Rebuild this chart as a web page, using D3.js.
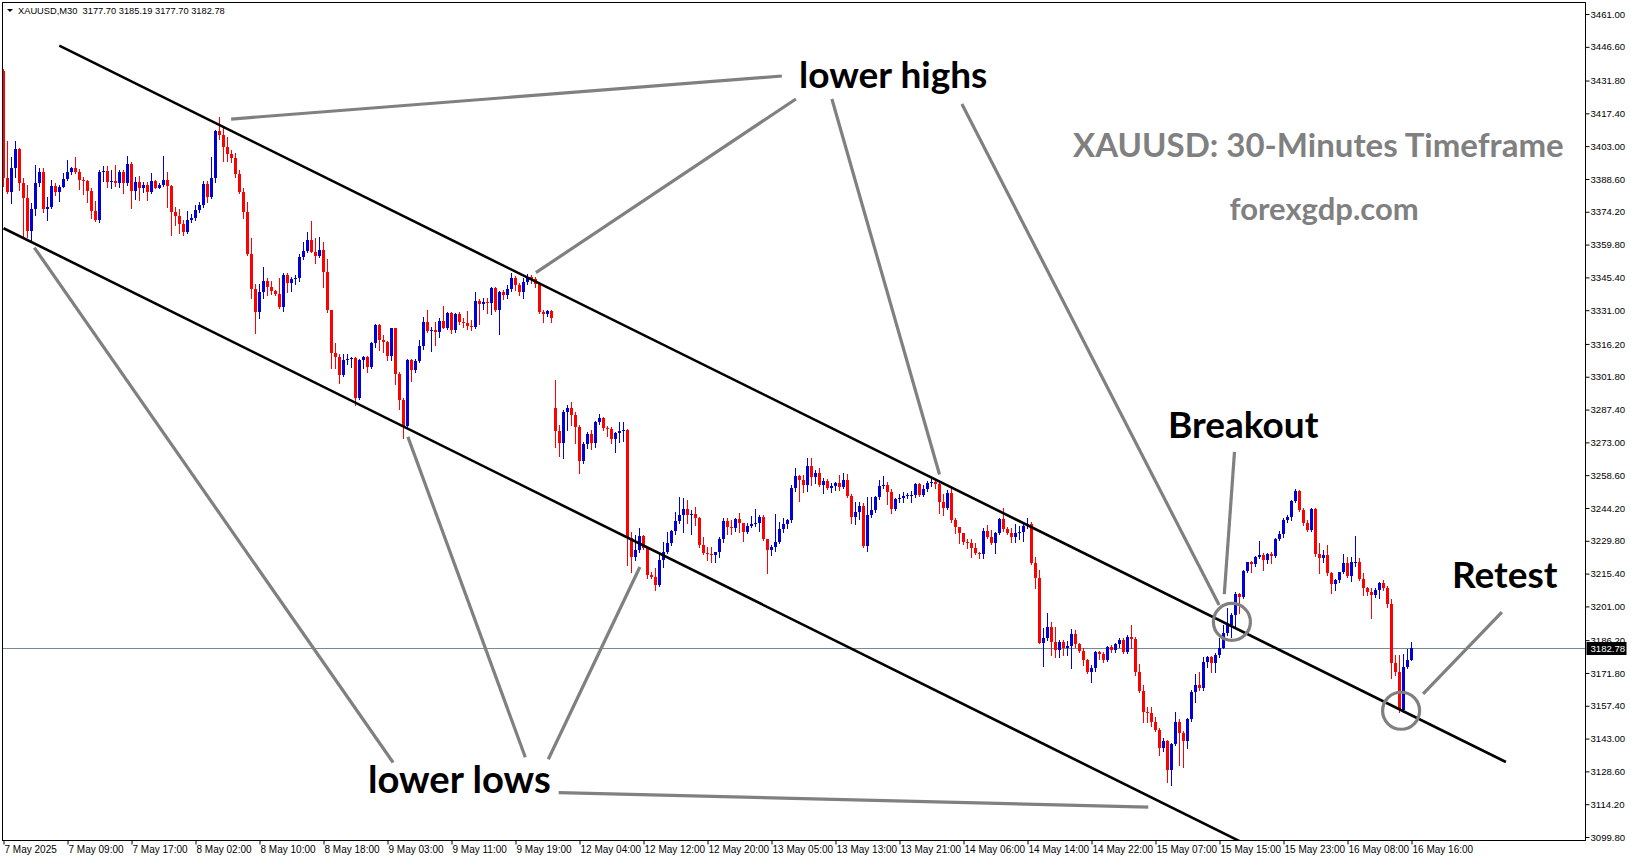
<!DOCTYPE html>
<html><head><meta charset="utf-8">
<script src="https://cdn.jsdelivr.net/npm/d3@7"></script>
<style>
html,body{margin:0;padding:0;background:#fff;overflow:hidden}
svg{display:block}
</style></head><body>
<svg id="chart" width="1631" height="861"></svg>
<script>
// ---------------- DATA ----------------
const headerText = "XAUUSD,M30  3177.70 3185.19 3177.70 3182.78";
const timeLabels = ["7 May 2025","7 May 09:00","7 May 17:00","8 May 02:00","8 May 10:00","8 May 18:00","9 May 03:00","9 May 11:00","9 May 19:00","12 May 04:00","12 May 12:00","12 May 20:00","13 May 05:00","13 May 13:00","13 May 21:00","14 May 06:00","14 May 14:00","14 May 22:00","15 May 07:00","15 May 15:00","15 May 23:00","16 May 08:00","16 May 16:00"];
const timeLabelBars = [0,16,32,48,64,80,96,112,128,144,160,176,192,208,224,240,256,272,288,304,320,336,352];
const priceTicks = [3461.00,3446.60,3431.80,3417.40,3403.00,3388.60,3374.20,3359.80,3345.40,3331.00,3316.20,3301.80,3287.40,3273.00,3258.60,3244.20,3229.80,3215.40,3201.00,3186.20,3171.80,3157.40,3143.00,3128.60,3114.20,3099.80];
const lastPrice = 3182.78;

const opens = [
3436.0,3389.0,3382.7,3393.6,3401.7,3386.7,3380.4,3365.8,3375.4,3386.8,
3391.5,3375.4,3376.3,3385.6,3382.7,3385.1,3388.6,3391.5,3393.6,3391.8,
3388.1,3387.7,3383.3,3374.5,3370.6,3391.5,3392.1,3387.4,3387.7,3386.8,
3391.8,3386.7,3395.0,3383.3,3387.1,3384.8,3385.9,3382.7,3387.7,3384.8,
3385.9,3388.1,3385.6,3374.0,3372.5,3368.7,3365.2,3370.6,3371.3,3375.0,
3377.2,3386.2,3380.8,3388.9,3409.6,3407.9,3402.8,3399.4,3397.6,3390.6,
3382.7,3374.2,3355.5,3340.3,3330.3,3338.8,3343.8,3341.3,3339.4,3338.3,
3332.5,3346.4,3342.8,3344.7,3345.3,3354.5,3357.0,3361.8,3356.7,3354.9,
3357.4,3347.6,3331.1,3312.0,3310.6,3302.5,3309.1,3309.6,3309.9,3292.3,
3309.1,3310.6,3306.2,3316.5,3324.5,3317.9,3316.9,3311.0,3323.0,3302.9,
3291.6,3280.3,3309.1,3304.8,3308.7,3315.4,3325.7,3321.9,3322.3,3321.6,
3326.3,3323.3,3329.6,3322.3,3329.2,3325.7,3325.6,3324.2,3323.8,3335.0,
3333.6,3334.7,3334.0,3340.9,3331.1,3339.1,3337.7,3340.3,3345.0,3342.0,
3339.0,3343.5,3345.5,3344.5,3342.5,3330.1,3329.2,3330.6,3288.0,3278.0,
3272.6,3286.5,3288.2,3285.0,3279.9,3264.8,3272.1,3276.5,3272.6,3282.1,
3283.8,3279.2,3278.9,3274.5,3277.0,3278.0,3278.4,3230.9,3222.8,3225.7,
3232.1,3226.5,3214.8,3214.0,3210.4,3221.4,3225.0,3228.7,3234.1,3238.5,
3241.1,3243.7,3241.1,3241.4,3240.0,3228.0,3224.3,3223.8,3223.5,3224.7,
3230.8,3238.6,3235.7,3235.2,3239.2,3237.4,3233.8,3236.3,3237.2,3237.5,
3240.1,3230.4,3225.7,3226.9,3229.4,3234.8,3237.1,3238.9,3252.8,3258.2,
3256.5,3254.3,3262.6,3257.6,3259.7,3254.3,3256.2,3252.8,3253.8,3255.3,
3253.5,3256.5,3249.4,3240.1,3242.6,3245.1,3227.5,3241.1,3243.3,3248.9,
3253.8,3254.3,3251.3,3243.6,3248.0,3248.4,3249.4,3249.9,3250.0,3254.7,
3249.9,3252.4,3255.3,3255.7,3254.7,3247.0,3244.0,3250.9,3238.9,3235.7,
3233.1,3229.4,3228.7,3226.5,3224.3,3224.0,3234.2,3231.3,3229.0,3233.4,
3239.2,3234.8,3233.4,3231.6,3233.1,3233.8,3236.3,3237.2,3220.2,3213.3,
3185.1,3187.0,3191.8,3185.5,3181.9,3185.5,3182.6,3183.6,3188.7,3184.4,
3181.4,3177.5,3172.1,3173.8,3180.8,3180.0,3177.5,3183.3,3181.9,3184.3,
3186.3,3181.1,3187.7,3186.7,3172.1,3163.9,3154.5,3154.1,3150.4,3146.8,
3138.7,3142.0,3129.2,3140.5,3150.4,3145.3,3142.0,3151.6,3163.3,3166.5,
3165.3,3176.5,3179.0,3176.0,3179.7,3182.9,3189.2,3192.8,3197.2,3206.3,
3205.3,3216.5,3220.3,3219.5,3222.9,3223.6,3221.4,3223.9,3223.3,3230.6,
3232.6,3238.9,3240.4,3247.3,3251.6,3243.3,3237.5,3234.5,3243.7,3223.9,
3222.4,3223.6,3215.5,3210.7,3212.6,3216.0,3219.9,3214.5,3220.3,3220.6,
3213.0,3209.2,3207.2,3206.0,3208.2,3211.1,3209.2,3201.9,3176.0,3172.4,
3155.5,3174.6,3177.70];

const highs = [
3437.0,3405.3,3398.4,3405.3,3402.3,3389.2,3386.0,3377.9,3394.7,3393.3,
3393.3,3380.8,3388.1,3386.7,3386.0,3391.0,3396.9,3394.0,3398.4,3393.0,
3389.6,3388.1,3384.5,3379.0,3392.5,3394.4,3394.4,3392.5,3394.7,3392.5,
3392.5,3398.8,3395.9,3389.6,3390.0,3387.4,3387.4,3391.0,3388.1,3386.7,
3398.8,3391.8,3385.9,3376.4,3375.4,3370.6,3374.5,3373.1,3377.2,3378.6,
3387.7,3387.7,3398.4,3410.1,3415.9,3411.5,3407.2,3401.3,3399.8,3392.5,
3384.8,3378.6,3362.5,3342.3,3342.3,3350.1,3345.3,3343.8,3340.0,3345.3,
3347.2,3347.2,3345.7,3346.4,3355.5,3361.1,3365.5,3370.1,3362.8,3363.3,
3361.1,3353.5,3331.1,3316.4,3311.6,3311.6,3311.6,3310.6,3310.6,3309.6,
3311.0,3311.0,3317.0,3325.0,3325.0,3320.1,3317.5,3323.3,3323.3,3303.7,
3292.3,3309.5,3309.6,3309.6,3317.9,3328.2,3331.1,3323.8,3326.0,3327.7,
3333.0,3330.4,3330.0,3329.6,3330.4,3327.4,3330.7,3326.7,3339.1,3336.0,
3336.2,3336.5,3341.3,3341.3,3339.4,3339.9,3342.1,3347.5,3346.0,3343.0,
3345.0,3347.0,3346.5,3345.5,3343.5,3331.1,3331.0,3331.0,3300.4,3280.6,
3287.2,3289.4,3290.9,3286.5,3280.6,3273.3,3277.7,3278.4,3282.4,3285.3,
3284.3,3280.3,3279.9,3277.7,3282.1,3282.1,3278.8,3233.8,3232.4,3235.3,
3232.4,3227.2,3216.2,3217.7,3225.0,3229.4,3233.8,3234.5,3242.6,3249.2,
3248.4,3247.7,3243.3,3244.8,3240.4,3231.6,3227.2,3227.2,3225.0,3231.5,
3239.6,3239.6,3238.9,3240.0,3242.1,3237.7,3237.4,3240.7,3243.6,3241.1,
3241.1,3230.8,3227.9,3241.5,3238.2,3239.6,3239.2,3254.3,3261.6,3258.7,
3258.7,3266.0,3266.0,3260.8,3261.6,3257.2,3256.8,3255.0,3255.7,3258.7,
3259.4,3259.1,3250.3,3246.9,3247.0,3246.2,3248.9,3249.0,3249.4,3256.5,
3258.2,3255.7,3252.4,3248.4,3250.3,3251.3,3250.6,3251.8,3255.3,3255.3,
3254.3,3256.2,3257.2,3256.8,3255.3,3250.3,3252.0,3252.8,3239.6,3236.0,
3233.4,3230.8,3230.8,3229.0,3225.0,3235.2,3236.7,3234.5,3233.8,3239.6,
3244.0,3235.7,3235.2,3237.2,3236.3,3237.5,3239.6,3238.2,3222.8,3217.0,
3191.4,3198.3,3194.3,3192.1,3186.2,3186.2,3185.9,3191.1,3190.6,3184.8,
3182.6,3177.9,3175.3,3181.4,3181.4,3181.1,3183.7,3184.0,3184.8,3187.3,
3187.3,3188.4,3192.8,3187.7,3175.6,3166.5,3157.0,3157.0,3152.6,3147.5,
3143.4,3142.4,3141.0,3154.5,3151.6,3146.3,3152.2,3164.3,3171.2,3172.4,
3179.0,3179.4,3179.4,3180.4,3187.3,3192.8,3200.5,3198.0,3207.2,3206.7,
3217.0,3220.6,3220.9,3223.3,3229.7,3224.3,3224.3,3225.0,3230.9,3234.1,
3239.6,3241.1,3247.7,3252.5,3252.1,3244.0,3238.9,3244.3,3244.3,3228.7,
3225.7,3228.0,3216.2,3213.0,3216.3,3223.9,3222.8,3222.8,3232.0,3222.4,
3215.5,3209.6,3208.9,3209.2,3211.9,3212.6,3210.1,3204.2,3179.7,3179.7,
3180.0,3182.3,3185.19];

const lows = [
3385.5,3382.3,3377.9,3389.6,3383.7,3362.5,3363.3,3361.1,3372.8,3385.6,
3374.0,3370.6,3375.7,3381.5,3379.0,3385.0,3388.0,3390.6,3391.0,3384.2,
3382.0,3378.6,3371.6,3370.1,3369.8,3387.7,3385.0,3384.5,3385.6,3385.0,
3382.3,3386.0,3376.0,3380.0,3379.4,3382.7,3379.4,3382.3,3384.5,3384.7,
3385.6,3376.4,3364.0,3368.4,3364.7,3364.0,3365.0,3369.9,3370.6,3374.2,
3376.4,3378.3,3380.1,3387.4,3406.1,3396.5,3396.5,3395.9,3389.6,3382.3,
3371.3,3355.2,3336.2,3320.8,3327.4,3336.5,3337.7,3338.0,3337.5,3331.8,
3330.6,3338.8,3339.4,3342.4,3343.6,3353.5,3356.4,3356.4,3351.6,3354.5,
3341.3,3330.3,3305.5,3305.5,3298.9,3302.2,3307.2,3306.2,3289.4,3292.0,
3305.8,3304.0,3305.5,3315.0,3313.5,3312.8,3309.2,3309.2,3298.5,3287.6,
3275.0,3279.9,3299.9,3303.7,3308.1,3314.0,3321.3,3313.0,3315.7,3319.4,
3323.0,3322.8,3320.8,3321.6,3324.8,3323.8,3322.8,3322.3,3323.3,3324.8,
3331.5,3329.6,3329.2,3330.6,3320.4,3335.9,3336.5,3339.5,3340.0,3337.5,
3336.5,3342.5,3343.0,3341.0,3329.8,3326.0,3328.5,3325.7,3271.1,3267.2,
3266.3,3278.4,3280.6,3272.6,3259.4,3263.8,3270.4,3270.1,3271.1,3280.9,
3278.4,3275.9,3272.6,3268.9,3273.3,3273.6,3219.2,3216.2,3221.4,3225.0,
3226.0,3213.3,3213.3,3208.2,3209.8,3218.4,3224.3,3228.0,3232.6,3237.5,
3233.8,3237.5,3233.0,3236.8,3227.2,3223.9,3221.4,3220.6,3220.6,3222.8,
3229.4,3233.0,3233.0,3234.0,3233.8,3229.8,3233.4,3235.7,3236.3,3234.2,
3230.1,3215.8,3223.5,3225.5,3228.7,3233.8,3235.2,3238.2,3251.8,3247.4,
3251.4,3251.8,3254.3,3255.0,3254.0,3250.6,3252.4,3251.4,3252.1,3252.1,
3252.8,3248.9,3237.7,3237.2,3239.2,3227.2,3225.5,3240.4,3242.6,3248.0,
3252.8,3246.0,3242.1,3243.2,3247.0,3247.0,3248.4,3247.0,3249.1,3249.4,
3249.4,3251.8,3253.8,3252.8,3241.8,3241.1,3243.6,3238.2,3233.1,3229.0,
3228.4,3226.5,3222.8,3224.0,3222.1,3222.1,3230.9,3228.4,3224.6,3232.8,
3234.2,3232.8,3229.4,3229.4,3230.4,3229.8,3235.2,3219.6,3208.9,3184.8,
3174.8,3186.2,3179.6,3178.9,3178.9,3179.6,3179.6,3173.8,3183.3,3180.8,
3175.3,3171.6,3168.0,3172.6,3177.9,3176.7,3177.0,3181.1,3181.1,3183.3,
3180.4,3180.4,3182.6,3170.9,3163.3,3150.4,3150.4,3148.7,3146.3,3135.8,
3137.5,3124.1,3122.6,3140.2,3131.4,3130.6,3139.0,3150.7,3159.2,3164.3,
3164.3,3174.6,3172.4,3172.4,3179.0,3182.6,3188.5,3187.7,3191.4,3198.0,
3204.8,3216.0,3216.0,3218.9,3222.4,3217.0,3220.0,3220.0,3222.8,3230.1,
3231.6,3238.2,3238.9,3246.7,3242.9,3236.8,3234.1,3234.1,3223.3,3215.5,
3220.6,3214.8,3206.7,3208.2,3211.6,3215.5,3214.1,3212.1,3218.9,3212.6,
3206.0,3206.0,3195.7,3205.3,3204.5,3208.2,3200.9,3169.4,3170.9,3154.8,
3154.5,3173.8,3177.70];

const closes = [
3389.0,3382.7,3393.6,3401.7,3386.7,3380.4,3365.8,3375.4,3386.8,3391.5,
3375.4,3376.3,3385.6,3382.7,3385.1,3388.6,3391.5,3393.6,3391.8,3388.1,
3387.7,3383.3,3374.5,3370.6,3391.5,3392.1,3387.4,3387.7,3386.8,3391.8,
3386.7,3395.0,3383.3,3387.1,3384.8,3385.9,3382.7,3387.7,3384.8,3385.9,
3388.1,3385.6,3374.0,3372.5,3368.7,3365.2,3370.6,3371.3,3375.0,3377.2,
3386.2,3380.8,3388.9,3409.6,3407.9,3402.8,3399.4,3397.6,3390.6,3382.7,
3374.2,3355.5,3340.3,3330.3,3338.8,3343.8,3341.3,3339.4,3338.3,3332.5,
3346.4,3342.8,3344.7,3345.3,3354.5,3357.0,3361.8,3356.7,3354.9,3357.4,
3347.6,3331.1,3312.0,3310.6,3302.5,3309.1,3309.6,3309.9,3292.3,3309.1,
3310.6,3306.2,3316.5,3324.5,3317.9,3316.9,3311.0,3323.0,3302.9,3291.6,
3280.3,3309.1,3304.8,3308.7,3315.4,3325.7,3321.9,3322.3,3321.6,3326.3,
3323.3,3329.6,3322.3,3329.2,3325.7,3325.6,3324.2,3323.8,3335.0,3333.6,
3334.7,3334.0,3340.9,3331.1,3339.1,3337.7,3340.3,3345.0,3342.0,3339.0,
3343.5,3345.5,3344.5,3342.5,3330.1,3329.2,3330.6,3327.7,3278.0,3272.6,
3286.5,3288.2,3285.0,3279.9,3264.8,3272.1,3276.5,3272.6,3282.1,3283.8,
3279.2,3278.9,3274.5,3277.0,3278.0,3278.4,3230.9,3222.8,3225.7,3232.1,
3226.5,3214.8,3214.0,3210.4,3221.4,3225.0,3228.7,3234.1,3238.5,3241.1,
3243.7,3241.1,3241.4,3240.0,3228.0,3224.3,3223.8,3223.5,3224.7,3230.8,
3238.6,3235.7,3235.2,3239.2,3237.4,3233.8,3236.3,3237.2,3237.5,3240.1,
3230.4,3225.7,3226.9,3229.4,3234.8,3237.1,3238.9,3252.8,3258.2,3256.5,
3254.3,3262.6,3257.6,3259.7,3254.3,3256.2,3252.8,3253.8,3255.3,3253.5,
3256.5,3249.4,3240.1,3242.6,3245.1,3227.5,3241.1,3243.3,3248.9,3253.8,
3254.3,3251.3,3243.6,3248.0,3248.4,3249.4,3249.9,3250.0,3254.7,3249.9,
3252.4,3255.3,3255.7,3254.7,3247.0,3244.0,3250.9,3238.9,3235.7,3233.1,
3229.4,3228.7,3226.5,3224.3,3224.0,3234.2,3231.3,3229.0,3233.4,3239.2,
3234.8,3233.4,3231.6,3233.1,3233.8,3236.3,3237.2,3220.2,3213.3,3185.1,
3187.0,3191.8,3185.5,3181.9,3185.5,3182.6,3183.6,3188.7,3184.4,3181.4,
3177.5,3172.1,3173.8,3180.8,3180.0,3177.5,3183.3,3181.9,3184.3,3186.3,
3181.1,3187.7,3186.7,3172.1,3163.9,3154.5,3154.1,3150.4,3146.8,3138.7,
3142.0,3129.2,3140.5,3150.4,3145.3,3142.0,3151.6,3163.3,3166.5,3165.3,
3176.5,3179.0,3176.0,3179.7,3182.9,3189.2,3192.8,3197.2,3206.3,3205.3,
3216.5,3220.3,3219.5,3222.9,3223.6,3221.4,3223.9,3223.3,3230.6,3232.6,
3238.9,3240.4,3247.3,3251.6,3243.3,3237.5,3234.5,3243.7,3223.9,3222.4,
3223.6,3215.5,3210.7,3212.6,3216.0,3219.9,3214.5,3220.3,3220.6,3213.0,
3209.2,3207.2,3206.0,3208.2,3211.1,3209.2,3201.9,3176.0,3172.4,3155.5,
3174.6,3177.7,3182.78];

// drawn objects, in (bar index, price) coordinates
const channelLines = [
  [13.95, 3447.1, 375.6, 3132.7],
  [0, 3367.0, 309.1, 3097.9]
];
const pointerLines = [
  [56.9, 3414.9, 194.6, 3433.8],
  [133.1, 3347.5, 198.1, 3423.7],
  [234.0, 3258.9, 207.1, 3423.7],
  [303.9, 3201.6, 239.6, 3421.5],
  [305.2, 3206.4, 307.75, 3268.8],
  [354.9, 3162.6, 374.6, 3198.5],
  [7.7, 3358.5, 97.4, 3132.5],
  [101.1, 3275.4, 130.45, 3134.8],
  [159.1, 3218.3, 136.2, 3133.9],
  [138.8, 3119.3, 286.2, 3112.9]
];
const circles = [[307.1, 3194.2], [349.4, 3155.2]];
const annotations = [
  {text: "lower highs", bar: 198.9, price: 3428.5, size: 37, color: "#000"},
  {text: "lower lows", bar: 91.1, price: 3119.1, size: 38.2, color: "#000"},
  {text: "Breakout", bar: 291.1, price: 3274.9, size: 37, color: "#000"},
  {text: "Retest", bar: 362.1, price: 3209.1, size: 37, color: "#000"},
  {text: "XAUUSD: 30-Minutes Timeframe", bar: 267.4, price: 3398.2, size: 33, color: "#808080"},
  {text: "forexgdp.com", bar: 306.5, price: 3370.4, size: 31, color: "#808080"}
];

// ---------------- DRAW ----------------
const W = 1631, H = 861;
const plot = {left: 2.5, top: 2.5, right: 1585.5, bottom: 840.5};
const svg = d3.select("#chart");
svg.append("rect").attr("width", W).attr("height", H).attr("fill", "#fff");

const x = d3.scaleLinear().domain([0, 352]).range([3.5, 1411.5]);
const y = d3.scaleLinear().domain([3099.8, 3461]).range([837, 14]);

svg.append("defs").append("clipPath").attr("id", "clip")
  .append("rect").attr("x", 3).attr("y", 3).attr("width", 1582).attr("height", 837);

const g = svg.append("g").attr("clip-path", "url(#clip)");

// last price line
g.append("line").attr("x1", 3).attr("x2", 1585)
  .attr("y1", Math.round(y(lastPrice)) + 0.5).attr("y2", Math.round(y(lastPrice)) + 0.5)
  .attr("stroke", "#778899").attr("stroke-width", 1);

const candles = closes.map((c, i) => ({i, o: opens[i], h: highs[i], l: lows[i], c}));
const bull = "#0000d8", bear = "#ff0000";

const cg = g.append("g");
cg.selectAll("line.wick").data(candles).join("line")
  .attr("class", "wick")
  .attr("x1", d => x(d.i)).attr("x2", d => x(d.i))
  .attr("y1", d => Math.round(y(Math.max(d.h, d.o, d.c))))
  .attr("y2", d => Math.round(y(Math.min(d.l, d.o, d.c))) + 1)
  .attr("stroke", d => d.c >= d.o ? bull : bear)
  .attr("stroke-width", 1);

cg.selectAll("rect.body").data(candles).join("rect")
  .attr("class", "body")
  .attr("x", d => x(d.i) - 1.5)
  .attr("width", 3)
  .attr("y", d => Math.round(y(Math.max(d.o, d.c))))
  .attr("height", d => Math.max(1, Math.round(y(Math.min(d.o, d.c))) - Math.round(y(Math.max(d.o, d.c)))))
  .attr("fill", d => d.c >= d.o ? bull : bear);

// channel lines
g.selectAll("line.chan").data(channelLines).join("line")
  .attr("class", "chan")
  .attr("x1", d => x(d[0])).attr("y1", d => y(d[1]))
  .attr("x2", d => x(d[2])).attr("y2", d => y(d[3]))
  .attr("stroke", "#000").attr("stroke-width", 2.6);

// pointer lines
g.selectAll("line.ptr").data(pointerLines).join("line")
  .attr("class", "ptr")
  .attr("x1", d => x(d[0])).attr("y1", d => y(d[1]))
  .attr("x2", d => x(d[2])).attr("y2", d => y(d[3]))
  .attr("stroke", "#808080").attr("stroke-width", 3.2);

g.selectAll("circle.mark").data(circles).join("circle")
  .attr("class", "mark")
  .attr("cx", d => x(d[0])).attr("cy", d => y(d[1])).attr("r", 18.5)
  .attr("fill", "none").attr("stroke", "#808080").attr("stroke-width", 3.2);

// annotations
g.selectAll("text.ann").data(annotations).join("text")
  .attr("class", "ann")
  .attr("x", d => x(d.bar)).attr("y", d => y(d.price))
  .attr("font-family", "Lato, 'Open Sans', sans-serif")
  .attr("font-weight", 700)
  .attr("font-size", d => d.size)
  .attr("fill", d => d.color)
  .text(d => d.text);

// frame
svg.append("rect").attr("x", plot.left).attr("y", plot.top)
  .attr("width", plot.right - plot.left).attr("height", plot.bottom - plot.top)
  .attr("fill", "none").attr("stroke", "#000").attr("stroke-width", 1);

// price axis
const ya = svg.append("g").attr("transform", `translate(${plot.right},0)`)
  .call(d3.axisRight(y).tickValues(priceTicks).tickFormat(d3.format(".2f")).tickSize(4).tickPadding(1));
ya.select(".domain").remove();
ya.selectAll("line").attr("stroke", "#000");
ya.selectAll("text").attr("font-family", "'Liberation Sans', Arial, sans-serif").attr("font-size", 9.6).attr("fill", "#000");

// time axis
const xa = svg.append("g").attr("transform", `translate(0,${plot.bottom})`)
  .call(d3.axisBottom(x).tickValues(timeLabelBars).tickFormat((d, k) => timeLabels[k]).tickSize(4).tickPadding(1));
xa.select(".domain").remove();
xa.selectAll("line").attr("stroke", "#000");
xa.selectAll("text").attr("text-anchor", "start").attr("x", 0.5)
  .attr("font-family", "'Liberation Sans', Arial, sans-serif").attr("font-size", 10).attr("fill", "#000");

// last price label
const ly = Math.round(y(lastPrice));
svg.append("rect").attr("x", plot.right + 1).attr("y", ly - 6).attr("width", 40).attr("height", 13).attr("fill", "#000");
svg.append("text").attr("x", plot.right + 5).attr("y", ly + 4)
  .attr("font-family", "'Liberation Sans', Arial, sans-serif").attr("font-size", 9.6).attr("fill", "#fff")
  .text(d3.format(".2f")(lastPrice));

// header
svg.append("path").attr("d", "M7,9 L13,9 L10,12 Z").attr("fill", "#000");
svg.append("text").attr("x", 18).attr("y", 14)
  .attr("font-family", "'Liberation Sans', Arial, sans-serif").attr("font-size", 9.3).attr("fill", "#000")
  .style("white-space", "pre").text(headerText);
</script>
</body></html>
